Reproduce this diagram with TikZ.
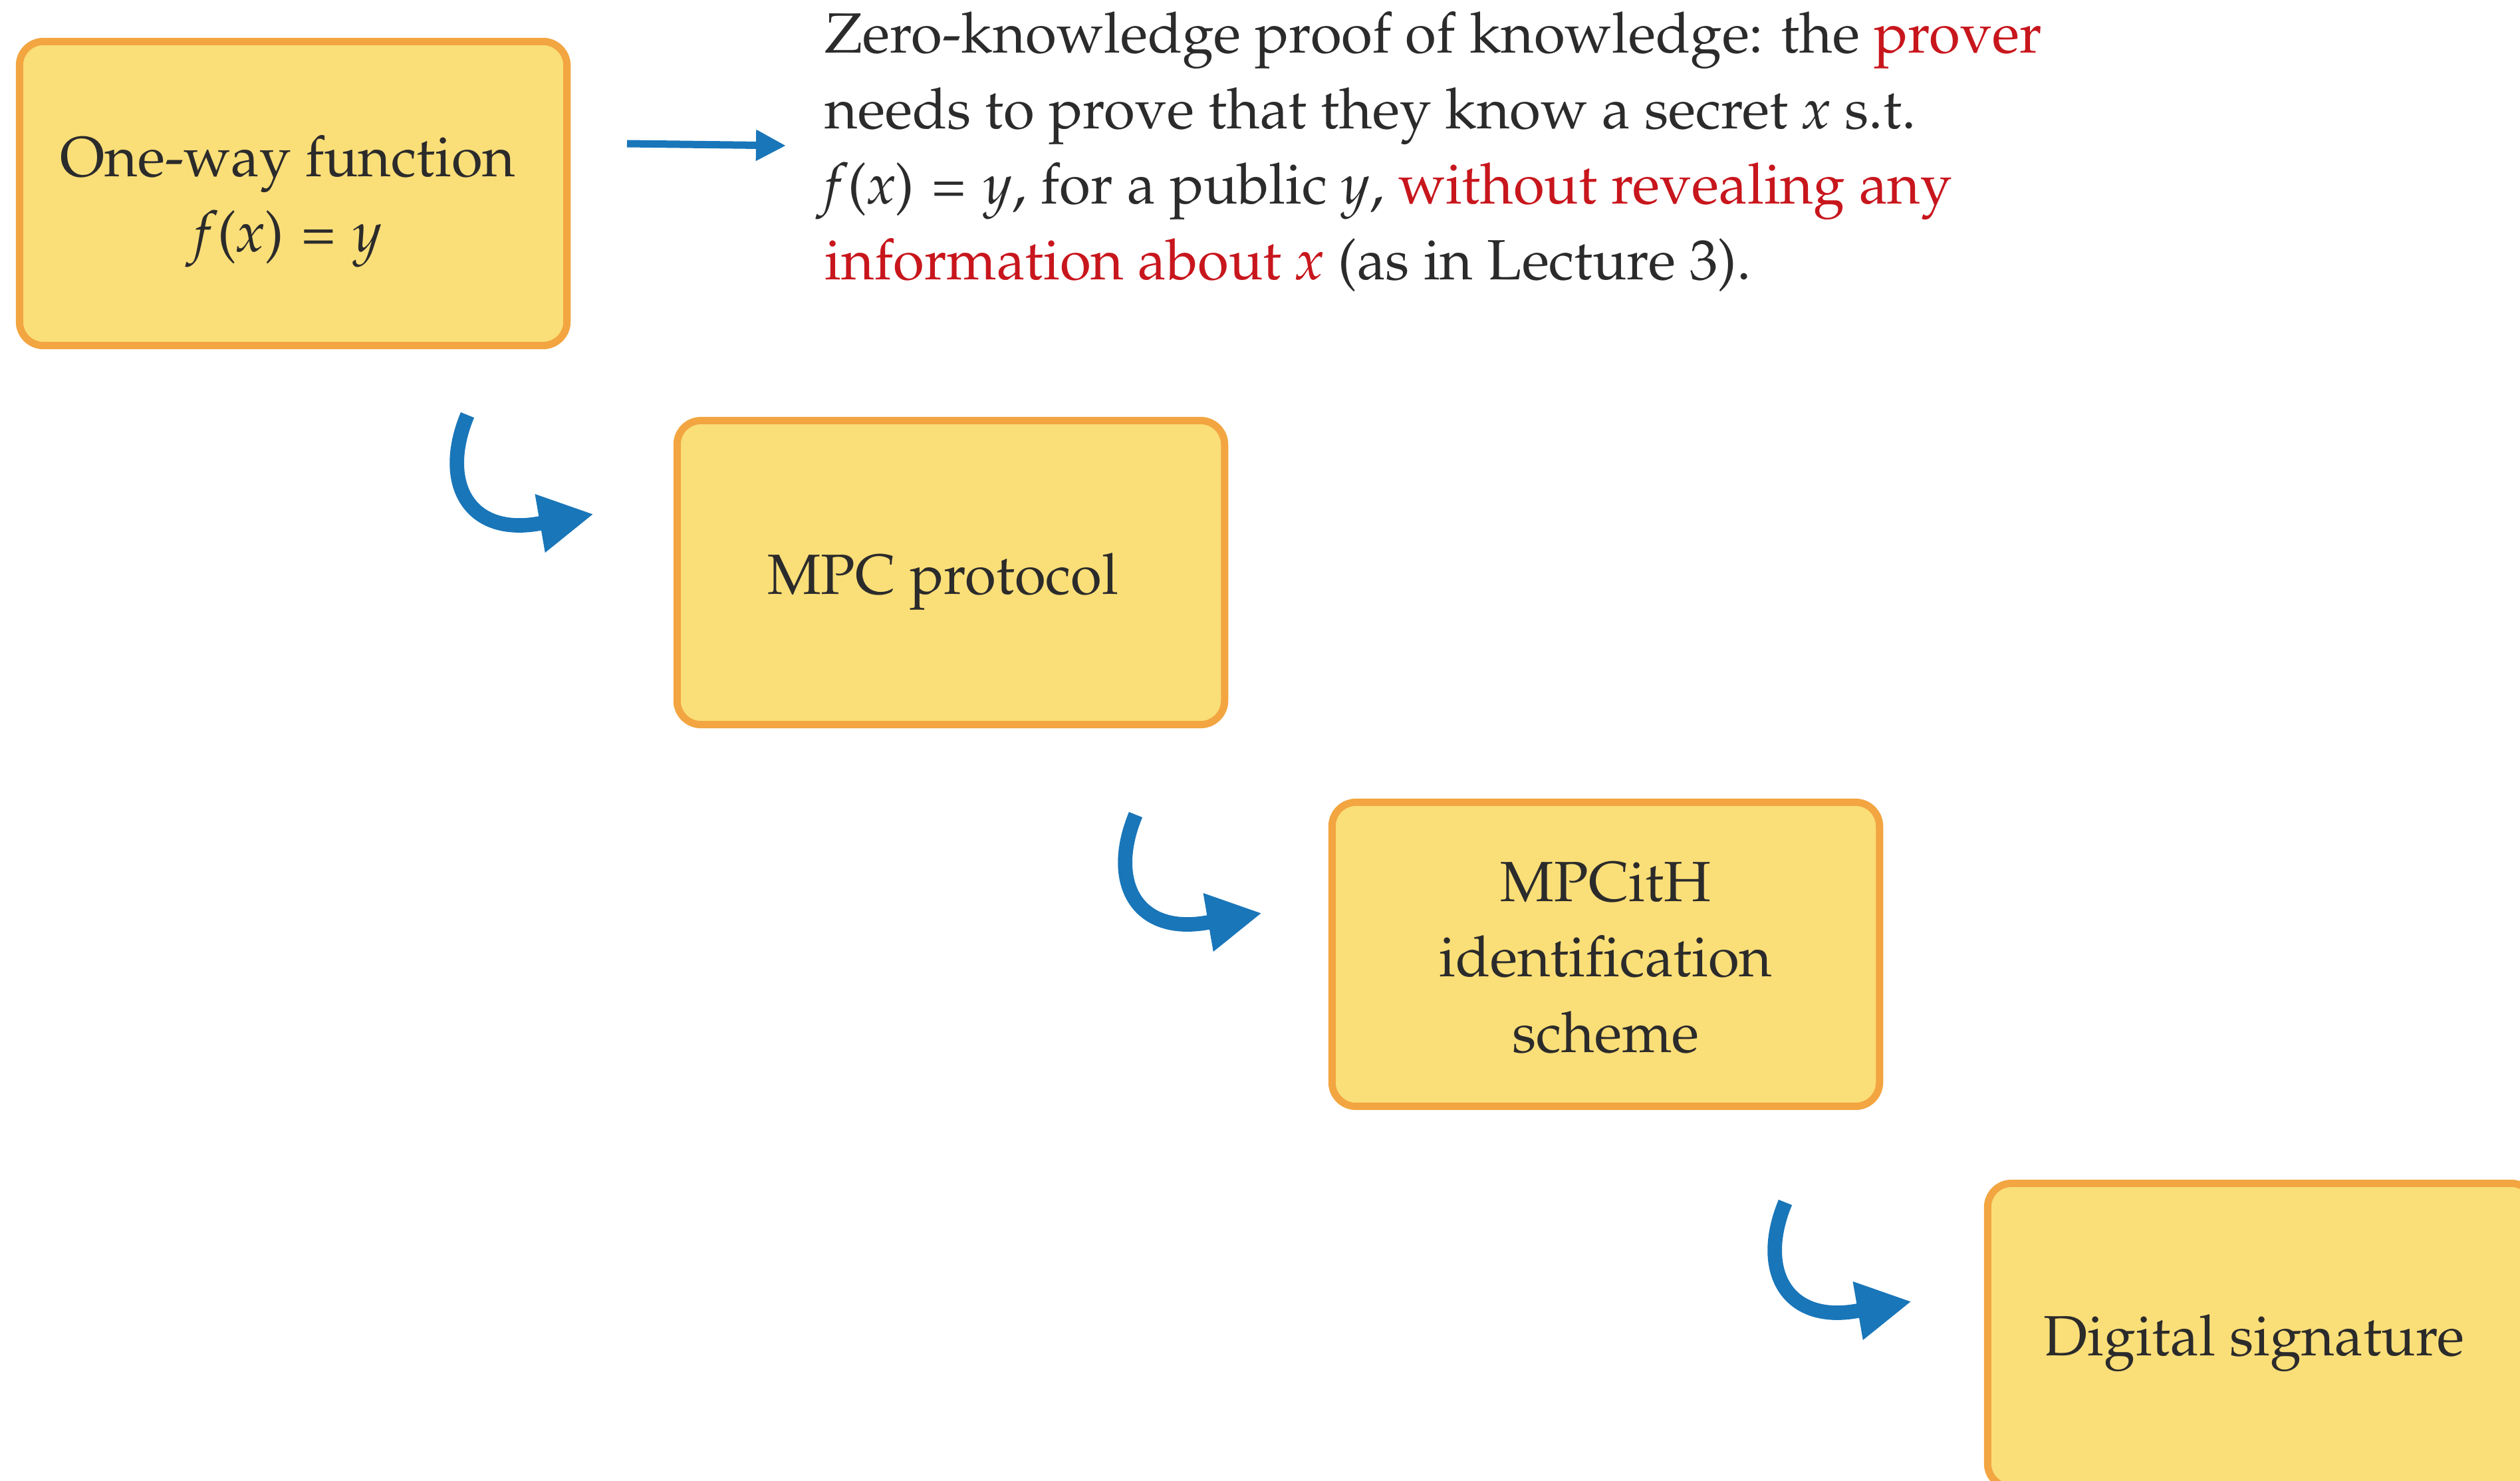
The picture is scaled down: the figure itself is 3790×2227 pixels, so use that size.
\documentclass[tikz,border=0pt]{standalone}
\usepackage[T1]{fontenc}
\usepackage{mathpazo}
\usetikzlibrary{arrows.meta}
\definecolor{boxfill}{HTML}{FADE78}
\definecolor{boxline}{HTML}{F2A540}
\definecolor{arrowblue}{HTML}{1976B9}
\definecolor{txt}{HTML}{2B2B2B}
\definecolor{hl}{HTML}{C8161D}
\newcommand{\mv}[1]{\textit{#1}}
\newcommand{\eqs}{\ \hspace{0.06em}=\ \hspace{0.06em}}
\tikzset{
  stage/.style={draw=boxline, fill=boxfill, line width=0.11cm, rounded corners=0.36cm,
    minimum width=8.23cm, minimum height=4.57cm, inner sep=0pt},
  caption/.style={align=center, text=txt, inner sep=0pt,
    font=\fontsize{24.25}{32.25}\selectfont},
  turn/.style={draw=arrowblue, line width=0.217cm, -{Triangle[length=0.82cm,width=0.83cm]}},
  link/.style={draw=arrowblue, line width=0.11cm, -{Triangle[length=0.45cm,width=0.44cm]}},
  note/.style={anchor=base west, inner sep=0pt, text=txt, font=\fontsize{24.25}{32.25}\selectfont}
}
\begin{document}
\begin{tikzpicture}[x=0.01cm, y=-0.01cm]
\useasboundingbox (0,0) rectangle (3790,2227);
\clip (0,0) rectangle (3790,2227);

\node[stage, label={[caption, xshift=-0.08cm, yshift=-0.12cm]center:{One-way function\\\mv{f}(\mv{x})\eqs\mv{y}}}] (owf) at (441,291) {};
\node[stage, label={[caption, xshift=-0.12cm, yshift=-0.14cm]center:{MPC protocol}}] (mpc) at (1430,861) {};
\node[stage, label={[caption, xshift=0cm, yshift=-0.05cm]center:{MPCitH\\identification\\scheme}}] (itH) at (2415,1435) {};
\node[stage, label={[caption, xshift=-0.11cm, yshift=-0.12cm]center:{Digital signature}}] (sig) at (3401,2008) {};

\node[note] (zk) at (1240,80) {\parbox[t]{22cm}{\raggedright
Zero-knowledge proof of knowledge: the \textcolor{hl}{prover}\\
needs to prove that they know a secret \mv{x} s.t.\\
\mv{f}(\mv{x})\eqs\mv{y}, for a public \mv{y}, \textcolor{hl}{without revealing any}\\
\textcolor{hl}{information about \mv{x}} (as in Lecture 3).}};

\coordinate (ls) at (943,216);
\coordinate (lt) at (1182,219);
\draw[link] (ls) -- (lt);

\coordinate (a1s) at (703,624);
\coordinate (a1t) at (893,773);
\coordinate (a2s) at (1708,1225);
\coordinate (a2t) at (1898,1373);
\coordinate (a3s) at (2685,1808);
\coordinate (a3t) at (2875,1957);
\draw[turn] (a1s) .. controls +(-42,101) and +(-108,20) .. ([shift={(-81,14)}]a1t) -- (a1t);
\draw[turn] (a2s) .. controls +(-42,101) and +(-108,20) .. ([shift={(-81,14)}]a2t) -- (a2t);
\draw[turn] (a3s) .. controls +(-42,101) and +(-108,20) .. ([shift={(-81,14)}]a3t) -- (a3t);
\end{tikzpicture}
\end{document}
